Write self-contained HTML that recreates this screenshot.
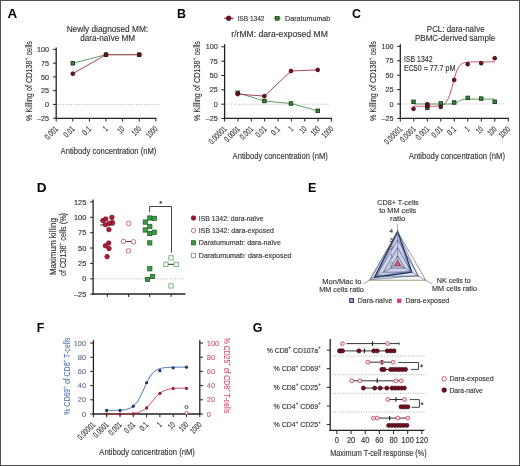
<!DOCTYPE html>
<html><head><meta charset="utf-8"><style>
html,body{margin:0;padding:0;background:#fff;}
svg{display:block;will-change:transform;}
text{font-family:"Liberation Sans",sans-serif;}
</style></head><body>
<svg width="520" height="466" viewBox="0 0 520 466">
<rect x="0" y="0" width="520" height="466" fill="#fff"/>
<text x="7.50" y="17.70" font-size="12.4" fill="#000" font-weight="bold" textLength="9.7" lengthAdjust="spacingAndGlyphs">A</text>
<text x="177.10" y="18.30" font-size="12.4" fill="#000" font-weight="bold">B</text>
<text x="352.00" y="17.80" font-size="12.4" fill="#000" font-weight="bold">C</text>
<text x="36.70" y="191.70" font-size="12.4" fill="#000" font-weight="bold" textLength="9.8" lengthAdjust="spacingAndGlyphs">D</text>
<text x="308.10" y="191.90" font-size="12.4" fill="#000" font-weight="bold">E</text>
<text x="36.70" y="331.80" font-size="12.4" fill="#000" font-weight="bold">F</text>
<text x="252.70" y="332.00" font-size="12.4" fill="#000" font-weight="bold">G</text>
<line x1="56.20" y1="47.50" x2="56.20" y2="118.90" stroke="#222" stroke-width="1.3"/>
<line x1="55.60" y1="118.30" x2="156.40" y2="118.30" stroke="#222" stroke-width="1.3"/>
<line x1="53.00" y1="49.40" x2="56.20" y2="49.40" stroke="#222" stroke-width="1"/>
<text x="48.90" y="52.00" font-size="7.2" text-anchor="end" fill="#333" stroke="#333" stroke-width="0.14">100</text>
<line x1="53.00" y1="63.15" x2="56.20" y2="63.15" stroke="#222" stroke-width="1"/>
<text x="48.90" y="65.75" font-size="7.2" text-anchor="end" fill="#333" stroke="#333" stroke-width="0.14">75</text>
<line x1="53.00" y1="76.90" x2="56.20" y2="76.90" stroke="#222" stroke-width="1"/>
<text x="48.90" y="79.50" font-size="7.2" text-anchor="end" fill="#333" stroke="#333" stroke-width="0.14">50</text>
<line x1="53.00" y1="90.65" x2="56.20" y2="90.65" stroke="#222" stroke-width="1"/>
<text x="48.90" y="93.25" font-size="7.2" text-anchor="end" fill="#333" stroke="#333" stroke-width="0.14">25</text>
<line x1="53.00" y1="104.40" x2="56.20" y2="104.40" stroke="#222" stroke-width="1"/>
<text x="48.90" y="107.00" font-size="7.2" text-anchor="end" fill="#333" stroke="#333" stroke-width="0.14">0</text>
<line x1="53.00" y1="118.15" x2="56.20" y2="118.15" stroke="#222" stroke-width="1"/>
<text x="48.90" y="120.75" font-size="7.2" text-anchor="end" fill="#333" stroke="#333" stroke-width="0.14">–25</text>
<line x1="56.20" y1="118.30" x2="56.20" y2="121.50" stroke="#222" stroke-width="1"/>
<text x="58.70" y="129.60" font-size="8.4" text-anchor="end" fill="#333" stroke="#333" stroke-width="0.14" textLength="15.2" lengthAdjust="spacingAndGlyphs" transform="rotate(-45 58.70 129.60)">0.001</text>
<line x1="72.80" y1="118.30" x2="72.80" y2="121.50" stroke="#222" stroke-width="1"/>
<text x="75.30" y="129.60" font-size="8.4" text-anchor="end" fill="#333" stroke="#333" stroke-width="0.14" textLength="12.0" lengthAdjust="spacingAndGlyphs" transform="rotate(-45 75.30 129.60)">0.01</text>
<line x1="89.40" y1="118.30" x2="89.40" y2="121.50" stroke="#222" stroke-width="1"/>
<text x="91.90" y="129.60" font-size="8.4" text-anchor="end" fill="#333" stroke="#333" stroke-width="0.14" textLength="8.9" lengthAdjust="spacingAndGlyphs" transform="rotate(-45 91.90 129.60)">0.1</text>
<line x1="106.00" y1="118.30" x2="106.00" y2="121.50" stroke="#222" stroke-width="1"/>
<text x="108.50" y="129.60" font-size="8.4" text-anchor="end" fill="#333" stroke="#333" stroke-width="0.14" textLength="3.1" lengthAdjust="spacingAndGlyphs" transform="rotate(-45 108.50 129.60)">1</text>
<line x1="122.60" y1="118.30" x2="122.60" y2="121.50" stroke="#222" stroke-width="1"/>
<text x="125.10" y="129.60" font-size="8.4" text-anchor="end" fill="#333" stroke="#333" stroke-width="0.14" textLength="6.3" lengthAdjust="spacingAndGlyphs" transform="rotate(-45 125.10 129.60)">10</text>
<line x1="139.20" y1="118.30" x2="139.20" y2="121.50" stroke="#222" stroke-width="1"/>
<text x="141.70" y="129.60" font-size="8.4" text-anchor="end" fill="#333" stroke="#333" stroke-width="0.14" textLength="9.4" lengthAdjust="spacingAndGlyphs" transform="rotate(-45 141.70 129.60)">100</text>
<line x1="155.80" y1="118.30" x2="155.80" y2="121.50" stroke="#222" stroke-width="1"/>
<text x="158.30" y="129.60" font-size="8.4" text-anchor="end" fill="#333" stroke="#333" stroke-width="0.14" textLength="12.6" lengthAdjust="spacingAndGlyphs" transform="rotate(-45 158.30 129.60)">1000</text>
<line x1="58.00" y1="104.40" x2="159.60" y2="104.40" stroke="#999" stroke-width="0.8" stroke-dasharray="1 1.6"/>
<text x="107.40" y="31.60" font-size="9.0" text-anchor="middle" fill="#333" stroke="#333" stroke-width="0.14" textLength="81.5" lengthAdjust="spacingAndGlyphs">Newly diagnosed MM:</text>
<text x="107.70" y="41.30" font-size="9.0" text-anchor="middle" fill="#333" stroke="#333" stroke-width="0.14" textLength="55" lengthAdjust="spacingAndGlyphs">dara-naïve MM</text>
<text x="31.50" y="81.00" font-size="9.1" text-anchor="middle" fill="#333" stroke="#333" stroke-width="0.14" textLength="80" lengthAdjust="spacingAndGlyphs" transform="rotate(-90 31.50 81.00)">% Killing of CD138<tspan font-size="65%" dy="-3.5">+</tspan><tspan dy="3.5"> cells</tspan></text>
<text x="60.60" y="153.60" font-size="9.8" fill="#333" stroke="#333" stroke-width="0.14" textLength="95.8" lengthAdjust="spacingAndGlyphs">Antibody concentration (nM)</text>
<polyline points="72.80,63.30 106.00,54.70 139.20,54.70" fill="none" stroke="#5e9e62" stroke-width="1.0"/>
<rect x="71.05" y="61.55" width="3.5" height="3.5" fill="#38843d" stroke="#163f1a" stroke-width="0.9"/>
<rect x="104.25" y="52.95" width="3.5" height="3.5" fill="#38843d" stroke="#163f1a" stroke-width="0.9"/>
<rect x="137.45" y="52.95" width="3.5" height="3.5" fill="#38843d" stroke="#163f1a" stroke-width="0.9"/>
<polyline points="72.80,73.70 106.00,54.70 139.20,54.70" fill="none" stroke="#a8465a" stroke-width="1.0"/>
<circle cx="72.80" cy="73.70" r="1.9" fill="#6e1222" stroke="#3e050e" stroke-width="0.8"/>
<circle cx="106.00" cy="54.70" r="1.9" fill="#6e1222" stroke="#3e050e" stroke-width="0.8"/>
<circle cx="139.20" cy="54.70" r="1.9" fill="#6e1222" stroke="#3e050e" stroke-width="0.8"/>
<line x1="224.60" y1="44.20" x2="224.60" y2="118.90" stroke="#222" stroke-width="1.3"/>
<line x1="224.00" y1="118.30" x2="332.00" y2="118.30" stroke="#222" stroke-width="1.3"/>
<line x1="221.40" y1="46.80" x2="224.60" y2="46.80" stroke="#222" stroke-width="1"/>
<text x="217.70" y="49.40" font-size="7.2" text-anchor="end" fill="#333" stroke="#333" stroke-width="0.14">100</text>
<line x1="221.40" y1="61.15" x2="224.60" y2="61.15" stroke="#222" stroke-width="1"/>
<text x="217.70" y="63.75" font-size="7.2" text-anchor="end" fill="#333" stroke="#333" stroke-width="0.14">75</text>
<line x1="221.40" y1="75.50" x2="224.60" y2="75.50" stroke="#222" stroke-width="1"/>
<text x="217.70" y="78.10" font-size="7.2" text-anchor="end" fill="#333" stroke="#333" stroke-width="0.14">50</text>
<line x1="221.40" y1="89.85" x2="224.60" y2="89.85" stroke="#222" stroke-width="1"/>
<text x="217.70" y="92.45" font-size="7.2" text-anchor="end" fill="#333" stroke="#333" stroke-width="0.14">25</text>
<line x1="221.40" y1="104.20" x2="224.60" y2="104.20" stroke="#222" stroke-width="1"/>
<text x="217.70" y="106.80" font-size="7.2" text-anchor="end" fill="#333" stroke="#333" stroke-width="0.14">0</text>
<line x1="221.40" y1="118.55" x2="224.60" y2="118.55" stroke="#222" stroke-width="1"/>
<text x="217.70" y="121.15" font-size="7.2" text-anchor="end" fill="#333" stroke="#333" stroke-width="0.14">–25</text>
<line x1="224.60" y1="118.30" x2="224.60" y2="121.50" stroke="#222" stroke-width="1"/>
<text x="227.10" y="129.60" font-size="8.4" text-anchor="end" fill="#333" stroke="#333" stroke-width="0.14" textLength="21.5" lengthAdjust="spacingAndGlyphs" transform="rotate(-45 227.10 129.60)">0.00001</text>
<line x1="237.95" y1="118.30" x2="237.95" y2="121.50" stroke="#222" stroke-width="1"/>
<text x="240.45" y="129.60" font-size="8.4" text-anchor="end" fill="#333" stroke="#333" stroke-width="0.14" textLength="18.4" lengthAdjust="spacingAndGlyphs" transform="rotate(-45 240.45 129.60)">0.0001</text>
<line x1="251.30" y1="118.30" x2="251.30" y2="121.50" stroke="#222" stroke-width="1"/>
<text x="253.80" y="129.60" font-size="8.4" text-anchor="end" fill="#333" stroke="#333" stroke-width="0.14" textLength="15.2" lengthAdjust="spacingAndGlyphs" transform="rotate(-45 253.80 129.60)">0.001</text>
<line x1="264.65" y1="118.30" x2="264.65" y2="121.50" stroke="#222" stroke-width="1"/>
<text x="267.15" y="129.60" font-size="8.4" text-anchor="end" fill="#333" stroke="#333" stroke-width="0.14" textLength="12.0" lengthAdjust="spacingAndGlyphs" transform="rotate(-45 267.15 129.60)">0.01</text>
<line x1="278.00" y1="118.30" x2="278.00" y2="121.50" stroke="#222" stroke-width="1"/>
<text x="280.50" y="129.60" font-size="8.4" text-anchor="end" fill="#333" stroke="#333" stroke-width="0.14" textLength="8.9" lengthAdjust="spacingAndGlyphs" transform="rotate(-45 280.50 129.60)">0.1</text>
<line x1="291.35" y1="118.30" x2="291.35" y2="121.50" stroke="#222" stroke-width="1"/>
<text x="293.85" y="129.60" font-size="8.4" text-anchor="end" fill="#333" stroke="#333" stroke-width="0.14" textLength="3.1" lengthAdjust="spacingAndGlyphs" transform="rotate(-45 293.85 129.60)">1</text>
<line x1="304.70" y1="118.30" x2="304.70" y2="121.50" stroke="#222" stroke-width="1"/>
<text x="307.20" y="129.60" font-size="8.4" text-anchor="end" fill="#333" stroke="#333" stroke-width="0.14" textLength="6.3" lengthAdjust="spacingAndGlyphs" transform="rotate(-45 307.20 129.60)">10</text>
<line x1="318.05" y1="118.30" x2="318.05" y2="121.50" stroke="#222" stroke-width="1"/>
<text x="320.55" y="129.60" font-size="8.4" text-anchor="end" fill="#333" stroke="#333" stroke-width="0.14" textLength="9.4" lengthAdjust="spacingAndGlyphs" transform="rotate(-45 320.55 129.60)">100</text>
<line x1="331.40" y1="118.30" x2="331.40" y2="121.50" stroke="#222" stroke-width="1"/>
<text x="333.90" y="129.60" font-size="8.4" text-anchor="end" fill="#333" stroke="#333" stroke-width="0.14" textLength="12.6" lengthAdjust="spacingAndGlyphs" transform="rotate(-45 333.90 129.60)">1000</text>
<line x1="226.00" y1="104.20" x2="329.00" y2="104.20" stroke="#999" stroke-width="0.8" stroke-dasharray="1 1.6"/>
<text x="279.60" y="36.60" font-size="8.8" text-anchor="middle" fill="#333" stroke="#333" stroke-width="0.14" textLength="96.5" lengthAdjust="spacingAndGlyphs">r/rMM: dara-exposed MM</text>
<text x="199.50" y="81.00" font-size="9.1" text-anchor="middle" fill="#333" stroke="#333" stroke-width="0.14" textLength="80" lengthAdjust="spacingAndGlyphs" transform="rotate(-90 199.50 81.00)">% Killing of CD138<tspan font-size="65%" dy="-3.5">+</tspan><tspan dy="3.5"> cells</tspan></text>
<text x="232.60" y="159.20" font-size="9.8" fill="#333" stroke="#333" stroke-width="0.14" textLength="95.2" lengthAdjust="spacingAndGlyphs">Antibody concentration (nM)</text>
<polyline points="237.70,92.80 264.40,101.00 291.00,103.50 317.70,110.80" fill="none" stroke="#5e9e62" stroke-width="1.0"/>
<rect x="235.95" y="91.05" width="3.5" height="3.5" fill="#38843d" stroke="#163f1a" stroke-width="0.9"/>
<rect x="262.65" y="99.25" width="3.5" height="3.5" fill="#38843d" stroke="#163f1a" stroke-width="0.9"/>
<rect x="289.25" y="101.75" width="3.5" height="3.5" fill="#38843d" stroke="#163f1a" stroke-width="0.9"/>
<rect x="315.95" y="109.05" width="3.5" height="3.5" fill="#38843d" stroke="#163f1a" stroke-width="0.9"/>
<polyline points="237.70,94.10 264.40,96.10 291.00,71.00 317.70,69.90" fill="none" stroke="#a8465a" stroke-width="1.0"/>
<circle cx="237.70" cy="94.10" r="1.9" fill="#6e1222" stroke="#3e050e" stroke-width="0.8"/>
<circle cx="264.40" cy="96.10" r="1.9" fill="#6e1222" stroke="#3e050e" stroke-width="0.8"/>
<circle cx="291.00" cy="71.00" r="1.9" fill="#6e1222" stroke="#3e050e" stroke-width="0.8"/>
<circle cx="317.70" cy="69.90" r="1.9" fill="#6e1222" stroke="#3e050e" stroke-width="0.8"/>
<line x1="224.00" y1="18.30" x2="233.60" y2="18.30" stroke="#a8465a" stroke-width="1.2"/>
<circle cx="228.70" cy="18.30" r="2.3" fill="#6e1222" stroke="#3e050e" stroke-width="0.8"/>
<text x="237.50" y="20.70" font-size="7.6" fill="#333" stroke="#333" stroke-width="0.14" textLength="27" lengthAdjust="spacingAndGlyphs">ISB 1342</text>
<line x1="273.80" y1="18.30" x2="280.60" y2="18.30" stroke="#5e9e62" stroke-width="1.2"/>
<rect x="275.30" y="16.40" width="3.8" height="3.8" fill="#38843d" stroke="#163f1a" stroke-width="0.8"/>
<text x="285.00" y="20.70" font-size="7.6" fill="#333" stroke="#333" stroke-width="0.14" textLength="45.3" lengthAdjust="spacingAndGlyphs">Daratumumab</text>
<line x1="400.30" y1="44.20" x2="400.30" y2="119.00" stroke="#222" stroke-width="1.3"/>
<line x1="399.70" y1="118.40" x2="508.90" y2="118.40" stroke="#222" stroke-width="1.3"/>
<line x1="397.10" y1="46.40" x2="400.30" y2="46.40" stroke="#222" stroke-width="1"/>
<text x="393.50" y="49.00" font-size="7.2" text-anchor="end" fill="#333" stroke="#333" stroke-width="0.14">100</text>
<line x1="397.10" y1="60.80" x2="400.30" y2="60.80" stroke="#222" stroke-width="1"/>
<text x="393.50" y="63.40" font-size="7.2" text-anchor="end" fill="#333" stroke="#333" stroke-width="0.14">75</text>
<line x1="397.10" y1="75.20" x2="400.30" y2="75.20" stroke="#222" stroke-width="1"/>
<text x="393.50" y="77.80" font-size="7.2" text-anchor="end" fill="#333" stroke="#333" stroke-width="0.14">50</text>
<line x1="397.10" y1="89.60" x2="400.30" y2="89.60" stroke="#222" stroke-width="1"/>
<text x="393.50" y="92.20" font-size="7.2" text-anchor="end" fill="#333" stroke="#333" stroke-width="0.14">25</text>
<line x1="397.10" y1="104.00" x2="400.30" y2="104.00" stroke="#222" stroke-width="1"/>
<text x="393.50" y="106.60" font-size="7.2" text-anchor="end" fill="#333" stroke="#333" stroke-width="0.14">0</text>
<line x1="397.10" y1="118.40" x2="400.30" y2="118.40" stroke="#222" stroke-width="1"/>
<text x="393.50" y="121.00" font-size="7.2" text-anchor="end" fill="#333" stroke="#333" stroke-width="0.14">–25</text>
<line x1="400.30" y1="118.40" x2="400.30" y2="121.60" stroke="#222" stroke-width="1"/>
<text x="402.80" y="129.70" font-size="8.4" text-anchor="end" fill="#333" stroke="#333" stroke-width="0.14" textLength="21.5" lengthAdjust="spacingAndGlyphs" transform="rotate(-45 402.80 129.70)">0.00001</text>
<line x1="413.80" y1="118.40" x2="413.80" y2="121.60" stroke="#222" stroke-width="1"/>
<text x="416.30" y="129.70" font-size="8.4" text-anchor="end" fill="#333" stroke="#333" stroke-width="0.14" textLength="18.4" lengthAdjust="spacingAndGlyphs" transform="rotate(-45 416.30 129.70)">0.0001</text>
<line x1="427.30" y1="118.40" x2="427.30" y2="121.60" stroke="#222" stroke-width="1"/>
<text x="429.80" y="129.70" font-size="8.4" text-anchor="end" fill="#333" stroke="#333" stroke-width="0.14" textLength="15.2" lengthAdjust="spacingAndGlyphs" transform="rotate(-45 429.80 129.70)">0.001</text>
<line x1="440.80" y1="118.40" x2="440.80" y2="121.60" stroke="#222" stroke-width="1"/>
<text x="443.30" y="129.70" font-size="8.4" text-anchor="end" fill="#333" stroke="#333" stroke-width="0.14" textLength="12.0" lengthAdjust="spacingAndGlyphs" transform="rotate(-45 443.30 129.70)">0.01</text>
<line x1="454.30" y1="118.40" x2="454.30" y2="121.60" stroke="#222" stroke-width="1"/>
<text x="456.80" y="129.70" font-size="8.4" text-anchor="end" fill="#333" stroke="#333" stroke-width="0.14" textLength="8.9" lengthAdjust="spacingAndGlyphs" transform="rotate(-45 456.80 129.70)">0.1</text>
<line x1="467.80" y1="118.40" x2="467.80" y2="121.60" stroke="#222" stroke-width="1"/>
<text x="470.30" y="129.70" font-size="8.4" text-anchor="end" fill="#333" stroke="#333" stroke-width="0.14" textLength="3.1" lengthAdjust="spacingAndGlyphs" transform="rotate(-45 470.30 129.70)">1</text>
<line x1="481.30" y1="118.40" x2="481.30" y2="121.60" stroke="#222" stroke-width="1"/>
<text x="483.80" y="129.70" font-size="8.4" text-anchor="end" fill="#333" stroke="#333" stroke-width="0.14" textLength="6.3" lengthAdjust="spacingAndGlyphs" transform="rotate(-45 483.80 129.70)">10</text>
<line x1="494.80" y1="118.40" x2="494.80" y2="121.60" stroke="#222" stroke-width="1"/>
<text x="497.30" y="129.70" font-size="8.4" text-anchor="end" fill="#333" stroke="#333" stroke-width="0.14" textLength="9.4" lengthAdjust="spacingAndGlyphs" transform="rotate(-45 497.30 129.70)">100</text>
<line x1="508.30" y1="118.40" x2="508.30" y2="121.60" stroke="#222" stroke-width="1"/>
<text x="510.80" y="129.70" font-size="8.4" text-anchor="end" fill="#333" stroke="#333" stroke-width="0.14" textLength="12.6" lengthAdjust="spacingAndGlyphs" transform="rotate(-45 510.80 129.70)">1000</text>
<line x1="401.50" y1="104.00" x2="504.00" y2="104.00" stroke="#c8a0a8" stroke-width="0.8" stroke-dasharray="1 1.6"/>
<text x="455.70" y="31.50" font-size="8.8" text-anchor="middle" fill="#333" stroke="#333" stroke-width="0.14" textLength="57.7" lengthAdjust="spacingAndGlyphs">PCL: dara-naïve</text>
<text x="455.10" y="41.20" font-size="8.8" text-anchor="middle" fill="#333" stroke="#333" stroke-width="0.14" textLength="80.2" lengthAdjust="spacingAndGlyphs">PBMC-derived sample</text>
<text x="375.50" y="81.00" font-size="9.1" text-anchor="middle" fill="#333" stroke="#333" stroke-width="0.14" textLength="80" lengthAdjust="spacingAndGlyphs" transform="rotate(-90 375.50 81.00)">% Killing of CD138<tspan font-size="65%" dy="-3.5">+</tspan><tspan dy="3.5"> cells</tspan></text>
<text x="404.00" y="62.30" font-size="8.4" fill="#333" stroke="#333" stroke-width="0.14" textLength="28.5" lengthAdjust="spacingAndGlyphs">ISB 1342</text>
<text x="404.00" y="70.90" font-size="8.4" fill="#333" stroke="#333" stroke-width="0.14" textLength="51.3" lengthAdjust="spacingAndGlyphs">EC50 = 77.7 pM</text>
<text x="408.80" y="159.20" font-size="9.8" fill="#333" stroke="#333" stroke-width="0.14" textLength="96.2" lengthAdjust="spacingAndGlyphs">Antibody concentration (nM)</text>
<polyline points="413.80,106.30 414.48,106.30 415.15,106.30 415.82,106.30 416.50,106.30 417.18,106.30 417.85,106.30 418.52,106.30 419.20,106.30 419.88,106.30 420.55,106.30 421.22,106.30 421.90,106.30 422.57,106.30 423.25,106.30 423.92,106.30 424.60,106.30 425.27,106.30 425.95,106.30 426.62,106.30 427.30,106.30 427.97,106.29 428.65,106.29 429.32,106.29 430.00,106.29 430.67,106.28 431.35,106.27 432.02,106.27 432.70,106.26 433.37,106.25 434.05,106.23 434.72,106.21 435.40,106.19 436.07,106.16 436.75,106.12 437.42,106.07 438.10,106.01 438.77,105.94 439.45,105.84 440.12,105.73 440.80,105.58 441.47,105.40 442.15,105.17 442.82,104.88 443.50,104.53 444.17,104.09 444.85,103.55 445.52,102.90 446.20,102.10 446.87,101.13 447.55,99.99 448.22,98.63 448.90,97.06 449.57,95.26 450.25,93.24 450.92,91.02 451.60,88.63 452.27,86.13 452.95,83.58 453.62,81.04 454.30,78.58 454.97,76.25 455.65,74.10 456.32,72.17 457.00,70.45 457.67,68.97 458.35,67.69 459.02,66.62 459.70,65.72 460.37,64.98 461.05,64.37 461.72,63.87 462.40,63.47 463.07,63.14 463.75,62.88 464.42,62.67 465.10,62.50 465.77,62.37 466.45,62.26 467.12,62.17 467.80,62.10 468.47,62.05 469.15,62.01 469.82,61.97 470.50,61.94 471.17,61.92 471.85,61.90 472.52,61.89 473.20,61.88 473.87,61.87 474.55,61.86 475.22,61.86 475.90,61.85 476.57,61.85 477.25,61.85 477.92,61.85 478.60,61.84 479.27,61.84 479.95,61.84 480.62,61.84 481.30,61.84 481.97,61.84 482.65,61.84 483.32,61.84 484.00,61.84 484.67,61.84 485.35,61.84 486.02,61.84 486.70,61.84 487.37,61.84 488.05,61.84 488.72,61.84 489.40,61.84 490.07,61.84 490.75,61.84 491.42,61.84 492.10,61.84 492.77,61.84 493.45,61.84 494.12,61.84 494.80,61.84" fill="none" stroke="#c4405a" stroke-width="0.95"/>
<polyline points="413.80,104.00 414.48,104.00 415.15,104.00 415.82,104.00 416.50,104.00 417.18,104.00 417.85,104.00 418.52,104.00 419.20,104.00 419.88,104.00 420.55,104.00 421.22,104.00 421.90,104.00 422.57,104.00 423.25,104.00 423.92,104.00 424.60,104.00 425.27,104.00 425.95,104.00 426.62,104.00 427.30,104.00 427.97,104.00 428.65,104.00 429.32,104.00 430.00,104.00 430.67,104.00 431.35,104.00 432.02,104.00 432.70,104.00 433.37,104.00 434.05,104.00 434.72,104.00 435.40,104.00 436.07,104.00 436.75,104.00 437.42,104.00 438.10,104.00 438.77,104.00 439.45,104.00 440.12,104.00 440.80,104.00 441.47,104.00 442.15,104.00 442.82,104.00 443.50,104.00 444.17,104.00 444.85,104.00 445.52,103.99 446.20,103.99 446.87,103.99 447.55,103.98 448.22,103.97 448.90,103.96 449.57,103.95 450.25,103.92 450.92,103.89 451.60,103.85 452.27,103.79 452.95,103.71 453.62,103.60 454.30,103.45 454.97,103.26 455.65,103.02 456.32,102.72 457.00,102.37 457.67,101.97 458.35,101.55 459.02,101.13 459.70,100.74 460.37,100.39 461.05,100.09 461.72,99.84 462.40,99.65 463.07,99.50 463.75,99.39 464.42,99.31 465.10,99.25 465.77,99.21 466.45,99.18 467.12,99.16 467.80,99.14 468.47,99.13 469.15,99.12 469.82,99.12 470.50,99.11 471.17,99.11 471.85,99.11 472.52,99.11 473.20,99.11 473.87,99.11 474.55,99.11 475.22,99.10 475.90,99.10 476.57,99.10 477.25,99.10 477.92,99.10 478.60,99.10 479.27,99.10 479.95,99.10 480.62,99.10 481.30,99.10 481.97,99.10 482.65,99.10 483.32,99.10 484.00,99.10 484.67,99.10 485.35,99.10 486.02,99.10 486.70,99.10 487.37,99.10 488.05,99.10 488.72,99.10 489.40,99.10 490.07,99.10 490.75,99.10 491.42,99.10 492.10,99.10 492.77,99.10 493.45,99.10 494.12,99.10 494.80,99.10" fill="none" stroke="#3e8a42" stroke-width="0.95"/>
<rect x="411.75" y="100.05" width="3.5" height="3.5" fill="#38843d" stroke="#163f1a" stroke-width="0.9"/>
<rect x="425.55" y="106.15" width="3.5" height="3.5" fill="#38843d" stroke="#163f1a" stroke-width="0.9"/>
<rect x="425.55" y="103.85" width="3.5" height="3.5" fill="#38843d" stroke="#163f1a" stroke-width="0.9"/>
<rect x="439.05" y="101.65" width="3.5" height="3.5" fill="#38843d" stroke="#163f1a" stroke-width="0.9"/>
<rect x="452.45" y="100.75" width="3.5" height="3.5" fill="#38843d" stroke="#163f1a" stroke-width="0.9"/>
<rect x="465.95" y="96.15" width="3.5" height="3.5" fill="#38843d" stroke="#163f1a" stroke-width="0.9"/>
<rect x="479.45" y="96.85" width="3.5" height="3.5" fill="#38843d" stroke="#163f1a" stroke-width="0.9"/>
<rect x="492.95" y="100.05" width="3.5" height="3.5" fill="#38843d" stroke="#163f1a" stroke-width="0.9"/>
<circle cx="413.50" cy="108.80" r="1.9" fill="#6e1222" stroke="#3e050e" stroke-width="0.8"/>
<circle cx="427.30" cy="104.20" r="1.9" fill="#6e1222" stroke="#3e050e" stroke-width="0.8"/>
<circle cx="427.30" cy="106.20" r="1.9" fill="#6e1222" stroke="#3e050e" stroke-width="0.8"/>
<circle cx="440.80" cy="106.90" r="1.9" fill="#6e1222" stroke="#3e050e" stroke-width="0.8"/>
<circle cx="454.20" cy="79.90" r="1.9" fill="#6e1222" stroke="#3e050e" stroke-width="0.8"/>
<circle cx="467.70" cy="64.20" r="1.9" fill="#6e1222" stroke="#3e050e" stroke-width="0.8"/>
<circle cx="481.20" cy="63.20" r="1.9" fill="#6e1222" stroke="#3e050e" stroke-width="0.8"/>
<circle cx="494.70" cy="58.20" r="1.9" fill="#6e1222" stroke="#3e050e" stroke-width="0.8"/>
<line x1="93.10" y1="199.50" x2="93.10" y2="294.60" stroke="#222" stroke-width="1.3"/>
<line x1="92.50" y1="294.00" x2="185.50" y2="294.00" stroke="#222" stroke-width="1.3"/>
<line x1="90.10" y1="201.93" x2="93.10" y2="201.93" stroke="#222" stroke-width="1"/>
<text x="86.30" y="204.53" font-size="7.4" text-anchor="end" fill="#333" stroke="#333" stroke-width="0.14">125</text>
<line x1="90.10" y1="217.30" x2="93.10" y2="217.30" stroke="#222" stroke-width="1"/>
<text x="86.30" y="219.90" font-size="7.4" text-anchor="end" fill="#333" stroke="#333" stroke-width="0.14">100</text>
<line x1="90.10" y1="232.68" x2="93.10" y2="232.68" stroke="#222" stroke-width="1"/>
<text x="86.30" y="235.28" font-size="7.4" text-anchor="end" fill="#333" stroke="#333" stroke-width="0.14">75</text>
<line x1="90.10" y1="248.05" x2="93.10" y2="248.05" stroke="#222" stroke-width="1"/>
<text x="86.30" y="250.65" font-size="7.4" text-anchor="end" fill="#333" stroke="#333" stroke-width="0.14">50</text>
<line x1="90.10" y1="263.43" x2="93.10" y2="263.43" stroke="#222" stroke-width="1"/>
<text x="86.30" y="266.03" font-size="7.4" text-anchor="end" fill="#333" stroke="#333" stroke-width="0.14">25</text>
<line x1="90.10" y1="278.80" x2="93.10" y2="278.80" stroke="#222" stroke-width="1"/>
<text x="86.30" y="281.40" font-size="7.4" text-anchor="end" fill="#333" stroke="#333" stroke-width="0.14">0</text>
<line x1="90.10" y1="294.18" x2="93.10" y2="294.18" stroke="#222" stroke-width="1"/>
<text x="86.30" y="296.78" font-size="7.4" text-anchor="end" fill="#333" stroke="#333" stroke-width="0.14">–25</text>
<line x1="107.30" y1="294.00" x2="107.30" y2="297.00" stroke="#222" stroke-width="1"/>
<line x1="128.60" y1="294.00" x2="128.60" y2="297.00" stroke="#222" stroke-width="1"/>
<line x1="149.80" y1="294.00" x2="149.80" y2="297.00" stroke="#222" stroke-width="1"/>
<line x1="171.10" y1="294.00" x2="171.10" y2="297.00" stroke="#222" stroke-width="1"/>
<line x1="94.50" y1="278.80" x2="185.80" y2="278.80" stroke="#999" stroke-width="0.8" stroke-dasharray="1 1.6"/>
<text x="56.00" y="246.60" font-size="8.2" text-anchor="middle" fill="#333" stroke="#333" stroke-width="0.14" textLength="57" lengthAdjust="spacingAndGlyphs" transform="rotate(-90 56.00 246.60)">Maximum killing</text>
<text x="65.60" y="244.50" font-size="8.2" text-anchor="middle" fill="#333" stroke="#333" stroke-width="0.14" textLength="63" lengthAdjust="spacingAndGlyphs" transform="rotate(-90 65.60 244.50)">of CD138<tspan font-size="65%" dy="-3.5">+</tspan><tspan dy="3.5"> cells (%)</tspan></text>
<line x1="100.30" y1="225.00" x2="114.50" y2="225.00" stroke="#222" stroke-width="1"/>
<circle cx="102.90" cy="220.60" r="2.3" fill="#b01835" stroke="#6a0a1c" stroke-width="0.6"/>
<circle cx="105.70" cy="219.00" r="2.3" fill="#b01835" stroke="#6a0a1c" stroke-width="0.6"/>
<circle cx="111.90" cy="217.40" r="2.3" fill="#b01835" stroke="#6a0a1c" stroke-width="0.6"/>
<circle cx="112.50" cy="222.50" r="2.3" fill="#b01835" stroke="#6a0a1c" stroke-width="0.6"/>
<circle cx="109.30" cy="223.20" r="2.3" fill="#b01835" stroke="#6a0a1c" stroke-width="0.6"/>
<circle cx="105.40" cy="224.70" r="2.3" fill="#b01835" stroke="#6a0a1c" stroke-width="0.6"/>
<circle cx="108.90" cy="229.60" r="2.3" fill="#b01835" stroke="#6a0a1c" stroke-width="0.6"/>
<circle cx="108.70" cy="243.10" r="2.3" fill="#b01835" stroke="#6a0a1c" stroke-width="0.6"/>
<circle cx="105.40" cy="245.70" r="2.3" fill="#b01835" stroke="#6a0a1c" stroke-width="0.6"/>
<circle cx="109.00" cy="248.60" r="2.3" fill="#b01835" stroke="#6a0a1c" stroke-width="0.6"/>
<circle cx="107.10" cy="256.60" r="2.3" fill="#b01835" stroke="#6a0a1c" stroke-width="0.6"/>
<line x1="123.50" y1="241.50" x2="133.50" y2="241.50" stroke="#7a2030" stroke-width="1"/>
<circle cx="128.60" cy="223.40" r="2.3" fill="#fff" stroke="#c04a5c" stroke-width="0.8"/>
<circle cx="123.50" cy="241.40" r="2.3" fill="#fff" stroke="#c04a5c" stroke-width="0.8"/>
<circle cx="133.50" cy="241.80" r="2.3" fill="#fff" stroke="#c04a5c" stroke-width="0.8"/>
<circle cx="128.60" cy="250.80" r="2.3" fill="#fff" stroke="#c04a5c" stroke-width="0.8"/>
<rect x="147.65" y="215.85" width="4.3" height="4.3" fill="#3a9a40" stroke="#1e5a24" stroke-width="0.7"/>
<rect x="152.15" y="216.25" width="4.3" height="4.3" fill="#3a9a40" stroke="#1e5a24" stroke-width="0.7"/>
<rect x="143.15" y="219.95" width="4.3" height="4.3" fill="#3a9a40" stroke="#1e5a24" stroke-width="0.7"/>
<rect x="147.65" y="224.25" width="4.3" height="4.3" fill="#3a9a40" stroke="#1e5a24" stroke-width="0.7"/>
<rect x="143.15" y="227.85" width="4.3" height="4.3" fill="#3a9a40" stroke="#1e5a24" stroke-width="0.7"/>
<rect x="147.65" y="231.35" width="4.3" height="4.3" fill="#3a9a40" stroke="#1e5a24" stroke-width="0.7"/>
<rect x="152.15" y="230.05" width="4.3" height="4.3" fill="#3a9a40" stroke="#1e5a24" stroke-width="0.7"/>
<rect x="147.65" y="240.75" width="4.3" height="4.3" fill="#3a9a40" stroke="#1e5a24" stroke-width="0.7"/>
<rect x="147.65" y="266.65" width="4.3" height="4.3" fill="#3a9a40" stroke="#1e5a24" stroke-width="0.7"/>
<rect x="150.45" y="274.35" width="4.3" height="4.3" fill="#3a9a40" stroke="#1e5a24" stroke-width="0.7"/>
<rect x="145.35" y="277.35" width="4.3" height="4.3" fill="#3a9a40" stroke="#1e5a24" stroke-width="0.7"/>
<line x1="166.00" y1="264.30" x2="176.00" y2="264.30" stroke="#333" stroke-width="1"/>
<rect x="168.85" y="255.75" width="4.3" height="4.3" fill="#fff" stroke="#5aa85c" stroke-width="0.8"/>
<rect x="163.75" y="262.15" width="4.3" height="4.3" fill="#fff" stroke="#5aa85c" stroke-width="0.8"/>
<rect x="174.05" y="262.15" width="4.3" height="4.3" fill="#fff" stroke="#5aa85c" stroke-width="0.8"/>
<rect x="168.85" y="283.75" width="4.3" height="4.3" fill="#fff" stroke="#5aa85c" stroke-width="0.8"/>
<polyline points="149.60,212.20 149.60,206.50 171.50,206.50 171.50,252.50" fill="none" stroke="#444" stroke-width="1"/>
<line x1="160.70" y1="200.90" x2="160.70" y2="203.90" stroke="#333" stroke-width="0.75"/>
<line x1="159.40" y1="201.65" x2="162.00" y2="203.15" stroke="#333" stroke-width="0.75"/>
<line x1="162.00" y1="201.65" x2="159.40" y2="203.15" stroke="#333" stroke-width="0.75"/>
<circle cx="193.50" cy="218.00" r="2.3" fill="#a01830" stroke="#5a0c18" stroke-width="0.6"/>
<text x="198.80" y="220.60" font-size="8" fill="#333" stroke="#333" stroke-width="0.14" textLength="64.7" lengthAdjust="spacingAndGlyphs">ISB 1342: dara-naïve</text>
<circle cx="193.50" cy="230.50" r="2.2" fill="#fff" stroke="#c04a5c" stroke-width="0.8"/>
<text x="198.80" y="233.10" font-size="8" fill="#333" stroke="#333" stroke-width="0.14" textLength="75.1" lengthAdjust="spacingAndGlyphs">ISB 1342: dara-exposed</text>
<rect x="191.40" y="240.70" width="4.2" height="4.2" fill="#3a9a40" stroke="#1e5a24" stroke-width="0.7"/>
<text x="198.80" y="245.40" font-size="8" fill="#333" stroke="#333" stroke-width="0.14" textLength="82" lengthAdjust="spacingAndGlyphs">Daratumumab: dara-naïve</text>
<rect x="191.40" y="253.30" width="4.2" height="4.2" fill="#fff" stroke="#5aa85c" stroke-width="0.8"/>
<text x="198.80" y="258.00" font-size="8" fill="#333" stroke="#333" stroke-width="0.14" textLength="92.8" lengthAdjust="spacingAndGlyphs">Daratumumab: dara-exposed</text>
<polygon points="397.60,231.40 417.79,275.65 370.43,279.69" fill="#e2e5f3" stroke="#5a6a9a" stroke-width="0.7"/>
<polygon points="397.60,231.40 411.72,272.15 374.59,277.28" fill="#cdd2ea" stroke="#1d3768" stroke-width="1.4"/>
<polygon points="397.60,233.44 409.95,271.13 376.43,276.23" fill="none" stroke="#5a70a8" stroke-width="0.6"/>
<line x1="397.60" y1="264.00" x2="397.60" y2="224.06" stroke="#666" stroke-width="0.6"/>
<line x1="397.60" y1="264.00" x2="431.83" y2="283.76" stroke="#666" stroke-width="0.6"/>
<line x1="397.60" y1="264.00" x2="363.37" y2="283.76" stroke="#666" stroke-width="0.6"/>
<polygon points="397.60,255.85 404.66,268.07 390.54,268.07" fill="none" stroke="#3a4470" stroke-width="0.6"/>
<polygon points="397.60,247.70 411.72,272.15 383.48,272.15" fill="none" stroke="#3a4470" stroke-width="0.6"/>
<polygon points="397.60,239.55 418.77,276.23 376.43,276.23" fill="none" stroke="#3a4470" stroke-width="0.6"/>
<polygon points="397.60,231.40 425.83,280.30 369.37,280.30" fill="none" stroke="#6e6a60" stroke-width="0.7"/>
<line x1="370.17" y1="280.30" x2="425.03" y2="280.30" stroke="#cdbf9f" stroke-width="0.9"/>
<polygon points="397.60,260.41 400.71,265.79 394.49,265.79" fill="#cc6a8e" stroke="#8a1a3e" stroke-width="0.9"/>
<text x="393.00" y="233.40" font-size="6.2" text-anchor="end" fill="#333" stroke="#333" stroke-width="0.14">4</text>
<text x="393.00" y="241.55" font-size="6.2" text-anchor="end" fill="#333" stroke="#333" stroke-width="0.14">3</text>
<text x="393.00" y="249.70" font-size="4.8" text-anchor="end" fill="#777" stroke="#777" stroke-width="0.14">2</text>
<text x="393.00" y="257.85" font-size="4.8" text-anchor="end" fill="#777" stroke="#777" stroke-width="0.14">1</text>
<text x="393.00" y="266.00" font-size="4.8" text-anchor="end" fill="#777" stroke="#777" stroke-width="0.14">0</text>
<text x="398.00" y="204.60" font-size="7.9" text-anchor="middle" fill="#333" stroke="#333" stroke-width="0.14" textLength="41.5" lengthAdjust="spacingAndGlyphs">CD8+ T-cells</text>
<text x="397.70" y="212.60" font-size="7.9" text-anchor="middle" fill="#333" stroke="#333" stroke-width="0.14" textLength="37" lengthAdjust="spacingAndGlyphs">to MM cells</text>
<text x="397.70" y="221.20" font-size="7.9" text-anchor="middle" fill="#333" stroke="#333" stroke-width="0.14" textLength="15.2" lengthAdjust="spacingAndGlyphs">ratio</text>
<text x="341.90" y="283.50" font-size="7.9" text-anchor="middle" fill="#333" stroke="#333" stroke-width="0.14" textLength="39.2" lengthAdjust="spacingAndGlyphs">Mon/Mac to</text>
<text x="341.60" y="291.50" font-size="7.9" text-anchor="middle" fill="#333" stroke="#333" stroke-width="0.14" textLength="44.5" lengthAdjust="spacingAndGlyphs">MM cells ratio</text>
<text x="453.80" y="283.00" font-size="7.9" text-anchor="middle" fill="#333" stroke="#333" stroke-width="0.14" textLength="34" lengthAdjust="spacingAndGlyphs">NK cells to</text>
<text x="454.50" y="291.30" font-size="7.9" text-anchor="middle" fill="#333" stroke="#333" stroke-width="0.14" textLength="45" lengthAdjust="spacingAndGlyphs">MM cells ratio</text>
<rect x="349.80" y="298.70" width="3.6" height="3.6" fill="#c9d0ea" stroke="#1f3a6e" stroke-width="1.2"/>
<text x="357.70" y="302.90" font-size="7.6" fill="#333" stroke="#333" stroke-width="0.14" textLength="34.6" lengthAdjust="spacingAndGlyphs">Dara-naïve</text>
<rect x="397.10" y="298.70" width="4.2" height="4.2" fill="#d23a7a"/>
<text x="405.40" y="302.90" font-size="7.6" fill="#333" stroke="#333" stroke-width="0.14" textLength="43.8" lengthAdjust="spacingAndGlyphs">Dara-exposed</text>
<line x1="93.40" y1="340.20" x2="93.40" y2="414.60" stroke="#222" stroke-width="1.3"/>
<line x1="199.80" y1="340.20" x2="199.80" y2="414.60" stroke="#222" stroke-width="1.3"/>
<line x1="92.80" y1="414.00" x2="200.40" y2="414.00" stroke="#222" stroke-width="1.3"/>
<line x1="90.20" y1="343.00" x2="93.40" y2="343.00" stroke="#222" stroke-width="1"/>
<text x="86.00" y="345.60" font-size="7.4" text-anchor="end" fill="#627292" stroke="#627292" stroke-width="0.14">100</text>
<line x1="199.80" y1="343.00" x2="203.00" y2="343.00" stroke="#222" stroke-width="1"/>
<text x="206.80" y="345.60" font-size="7.4" fill="#d05a72" stroke="#d05a72" stroke-width="0.14">100</text>
<line x1="90.20" y1="357.20" x2="93.40" y2="357.20" stroke="#222" stroke-width="1"/>
<text x="86.00" y="359.80" font-size="7.4" text-anchor="end" fill="#627292" stroke="#627292" stroke-width="0.14">80</text>
<line x1="199.80" y1="357.20" x2="203.00" y2="357.20" stroke="#222" stroke-width="1"/>
<text x="206.80" y="359.80" font-size="7.4" fill="#d05a72" stroke="#d05a72" stroke-width="0.14">80</text>
<line x1="90.20" y1="371.40" x2="93.40" y2="371.40" stroke="#222" stroke-width="1"/>
<text x="86.00" y="374.00" font-size="7.4" text-anchor="end" fill="#627292" stroke="#627292" stroke-width="0.14">60</text>
<line x1="199.80" y1="371.40" x2="203.00" y2="371.40" stroke="#222" stroke-width="1"/>
<text x="206.80" y="374.00" font-size="7.4" fill="#d05a72" stroke="#d05a72" stroke-width="0.14">60</text>
<line x1="90.20" y1="385.60" x2="93.40" y2="385.60" stroke="#222" stroke-width="1"/>
<text x="86.00" y="388.20" font-size="7.4" text-anchor="end" fill="#627292" stroke="#627292" stroke-width="0.14">40</text>
<line x1="199.80" y1="385.60" x2="203.00" y2="385.60" stroke="#222" stroke-width="1"/>
<text x="206.80" y="388.20" font-size="7.4" fill="#d05a72" stroke="#d05a72" stroke-width="0.14">40</text>
<line x1="90.20" y1="399.80" x2="93.40" y2="399.80" stroke="#222" stroke-width="1"/>
<text x="86.00" y="402.40" font-size="7.4" text-anchor="end" fill="#627292" stroke="#627292" stroke-width="0.14">20</text>
<line x1="199.80" y1="399.80" x2="203.00" y2="399.80" stroke="#222" stroke-width="1"/>
<text x="206.80" y="402.40" font-size="7.4" fill="#d05a72" stroke="#d05a72" stroke-width="0.14">20</text>
<line x1="90.20" y1="414.00" x2="93.40" y2="414.00" stroke="#222" stroke-width="1"/>
<text x="86.00" y="416.60" font-size="7.4" text-anchor="end" fill="#627292" stroke="#627292" stroke-width="0.14">0</text>
<line x1="199.80" y1="414.00" x2="203.00" y2="414.00" stroke="#222" stroke-width="1"/>
<text x="206.80" y="416.60" font-size="7.4" fill="#d05a72" stroke="#d05a72" stroke-width="0.14">0</text>
<line x1="93.40" y1="414.00" x2="93.40" y2="417.20" stroke="#222" stroke-width="1"/>
<text x="95.90" y="425.30" font-size="8.4" text-anchor="end" fill="#333" stroke="#333" stroke-width="0.14" textLength="21.5" lengthAdjust="spacingAndGlyphs" transform="rotate(-45 95.90 425.30)">0.00001</text>
<line x1="106.70" y1="414.00" x2="106.70" y2="417.20" stroke="#222" stroke-width="1"/>
<text x="109.20" y="425.30" font-size="8.4" text-anchor="end" fill="#333" stroke="#333" stroke-width="0.14" textLength="18.4" lengthAdjust="spacingAndGlyphs" transform="rotate(-45 109.20 425.30)">0.0001</text>
<line x1="120.00" y1="414.00" x2="120.00" y2="417.20" stroke="#222" stroke-width="1"/>
<text x="122.50" y="425.30" font-size="8.4" text-anchor="end" fill="#333" stroke="#333" stroke-width="0.14" textLength="15.2" lengthAdjust="spacingAndGlyphs" transform="rotate(-45 122.50 425.30)">0.001</text>
<line x1="133.30" y1="414.00" x2="133.30" y2="417.20" stroke="#222" stroke-width="1"/>
<text x="135.80" y="425.30" font-size="8.4" text-anchor="end" fill="#333" stroke="#333" stroke-width="0.14" textLength="12.0" lengthAdjust="spacingAndGlyphs" transform="rotate(-45 135.80 425.30)">0.01</text>
<line x1="146.60" y1="414.00" x2="146.60" y2="417.20" stroke="#222" stroke-width="1"/>
<text x="149.10" y="425.30" font-size="8.4" text-anchor="end" fill="#333" stroke="#333" stroke-width="0.14" textLength="8.9" lengthAdjust="spacingAndGlyphs" transform="rotate(-45 149.10 425.30)">0.1</text>
<line x1="159.90" y1="414.00" x2="159.90" y2="417.20" stroke="#222" stroke-width="1"/>
<text x="162.40" y="425.30" font-size="8.4" text-anchor="end" fill="#333" stroke="#333" stroke-width="0.14" textLength="3.1" lengthAdjust="spacingAndGlyphs" transform="rotate(-45 162.40 425.30)">1</text>
<line x1="173.20" y1="414.00" x2="173.20" y2="417.20" stroke="#222" stroke-width="1"/>
<text x="175.70" y="425.30" font-size="8.4" text-anchor="end" fill="#333" stroke="#333" stroke-width="0.14" textLength="6.3" lengthAdjust="spacingAndGlyphs" transform="rotate(-45 175.70 425.30)">10</text>
<line x1="186.50" y1="414.00" x2="186.50" y2="417.20" stroke="#222" stroke-width="1"/>
<text x="189.00" y="425.30" font-size="8.4" text-anchor="end" fill="#333" stroke="#333" stroke-width="0.14" textLength="9.4" lengthAdjust="spacingAndGlyphs" transform="rotate(-45 189.00 425.30)">100</text>
<line x1="199.80" y1="414.00" x2="199.80" y2="417.20" stroke="#222" stroke-width="1"/>
<text x="202.30" y="425.30" font-size="8.4" text-anchor="end" fill="#333" stroke="#333" stroke-width="0.14" textLength="12.6" lengthAdjust="spacingAndGlyphs" transform="rotate(-45 202.30 425.30)">1000</text>
<text x="69.60" y="376.30" font-size="8.8" text-anchor="middle" fill="#5479b2" stroke="#5479b2" stroke-width="0.14" textLength="77" lengthAdjust="spacingAndGlyphs" transform="rotate(-90 69.60 376.30)">% CD69<tspan font-size="65%" dy="-3.5">+</tspan><tspan dy="3.5"> of CD8</tspan><tspan font-size="65%" dy="-3.5">+</tspan><tspan dy="3.5"> T-cells</tspan></text>
<text x="224.20" y="375.50" font-size="8.8" text-anchor="middle" fill="#d05470" stroke="#d05470" stroke-width="0.14" textLength="75.5" lengthAdjust="spacingAndGlyphs" transform="rotate(90 224.20 375.50)">% CD25<tspan font-size="65%" dy="-3.5">+</tspan><tspan dy="3.5"> of CD8</tspan><tspan font-size="65%" dy="-3.5">+</tspan><tspan dy="3.5"> T-cells</tspan></text>
<text x="99.30" y="455.00" font-size="9.8" fill="#333" stroke="#333" stroke-width="0.14" textLength="95.6" lengthAdjust="spacingAndGlyphs">Antibody concentration (nM)</text>
<polyline points="106.70,410.43 107.37,410.43 108.03,410.43 108.69,410.42 109.36,410.42 110.02,410.41 110.69,410.41 111.35,410.40 112.02,410.39 112.68,410.38 113.35,410.37 114.01,410.36 114.68,410.35 115.34,410.34 116.01,410.32 116.67,410.30 117.34,410.28 118.00,410.25 118.67,410.22 119.33,410.19 120.00,410.15 120.66,410.11 121.33,410.06 121.99,410.00 122.66,409.94 123.32,409.86 123.99,409.77 124.65,409.68 125.32,409.56 125.98,409.44 126.65,409.29 127.31,409.12 127.98,408.93 128.64,408.72 129.31,408.47 129.97,408.19 130.64,407.88 131.30,407.52 131.97,407.12 132.63,406.67 133.30,406.17 133.96,405.61 134.63,404.98 135.29,404.29 135.96,403.52 136.62,402.68 137.29,401.76 137.95,400.76 138.62,399.68 139.28,398.52 139.95,397.29 140.61,395.99 141.28,394.63 141.94,393.22 142.61,391.77 143.27,390.29 143.94,388.80 144.60,387.30 145.27,385.82 145.93,384.37 146.60,382.96 147.26,381.60 147.93,380.30 148.59,379.07 149.26,377.91 149.92,376.83 150.59,375.83 151.25,374.91 151.92,374.07 152.58,373.30 153.25,372.61 153.91,371.98 154.58,371.42 155.24,370.92 155.91,370.47 156.57,370.07 157.24,369.71 157.90,369.40 158.57,369.12 159.23,368.87 159.90,368.66 160.56,368.47 161.23,368.30 161.89,368.15 162.56,368.03 163.22,367.91 163.89,367.82 164.55,367.73 165.22,367.65 165.88,367.59 166.55,367.53 167.21,367.48 167.88,367.44 168.54,367.40 169.21,367.37 169.87,367.34 170.54,367.31 171.20,367.29 171.87,367.27 172.53,367.25 173.20,367.24 173.86,367.23 174.53,367.22 175.19,367.21 175.86,367.20 176.52,367.19 177.19,367.18 177.85,367.18 178.52,367.17 179.18,367.17 179.85,367.16 180.51,367.16 181.18,367.16 181.84,367.16 182.51,367.15 183.17,367.15 183.84,367.15 184.50,367.15 185.17,367.15 185.83,367.15 186.50,367.15" fill="none" stroke="#33629e" stroke-width="0.95"/>
<polyline points="106.70,414.00 107.37,414.00 108.03,413.99 108.69,413.99 109.36,413.99 110.02,413.99 110.69,413.99 111.35,413.99 112.02,413.99 112.68,413.99 113.35,413.99 114.01,413.98 114.68,413.98 115.34,413.98 116.01,413.98 116.67,413.97 117.34,413.97 118.00,413.96 118.67,413.96 119.33,413.95 120.00,413.95 120.66,413.94 121.33,413.93 121.99,413.92 122.66,413.91 123.32,413.90 123.99,413.89 124.65,413.87 125.32,413.86 125.98,413.84 126.65,413.82 127.31,413.79 127.98,413.76 128.64,413.73 129.31,413.70 129.97,413.66 130.64,413.61 131.30,413.56 131.97,413.50 132.63,413.43 133.30,413.36 133.96,413.27 134.63,413.18 135.29,413.07 135.96,412.95 136.62,412.82 137.29,412.66 137.95,412.49 138.62,412.30 139.28,412.09 139.95,411.86 140.61,411.59 141.28,411.30 141.94,410.98 142.61,410.63 143.27,410.24 143.94,409.81 144.60,409.35 145.27,408.85 145.93,408.30 146.60,407.72 147.26,407.10 147.93,406.44 148.59,405.74 149.26,405.01 149.92,404.26 150.59,403.47 151.25,402.67 151.92,401.86 152.58,401.04 153.25,400.22 153.91,399.41 154.58,398.61 155.24,397.83 155.91,397.07 156.57,396.34 157.24,395.65 157.90,394.99 158.57,394.37 159.23,393.78 159.90,393.24 160.56,392.74 161.23,392.27 161.89,391.85 162.56,391.46 163.22,391.10 163.89,390.78 164.55,390.49 165.22,390.23 165.88,389.99 166.55,389.78 167.21,389.59 167.88,389.42 168.54,389.27 169.21,389.13 169.87,389.01 170.54,388.91 171.20,388.81 171.87,388.73 172.53,388.65 173.20,388.59 173.86,388.53 174.53,388.48 175.19,388.43 175.86,388.39 176.52,388.35 177.19,388.32 177.85,388.29 178.52,388.27 179.18,388.25 179.85,388.23 180.51,388.21 181.18,388.20 181.84,388.18 182.51,388.17 183.17,388.16 183.84,388.15 184.50,388.14 185.17,388.14 185.83,388.13 186.50,388.13" fill="none" stroke="#c2304a" stroke-width="0.95"/>
<circle cx="106.70" cy="410.45" r="1.6" fill="#1c3666"/>
<circle cx="106.70" cy="414.00" r="1.6" fill="#9a1a30"/>
<circle cx="120.00" cy="410.45" r="1.6" fill="#1c3666"/>
<circle cx="120.00" cy="414.00" r="1.6" fill="#9a1a30"/>
<circle cx="133.30" cy="406.19" r="1.6" fill="#1c3666"/>
<circle cx="133.30" cy="413.79" r="1.6" fill="#9a1a30"/>
<circle cx="146.60" cy="382.76" r="1.6" fill="#1c3666"/>
<circle cx="146.60" cy="407.96" r="1.6" fill="#9a1a30"/>
<circle cx="159.90" cy="370.69" r="1.6" fill="#1c3666"/>
<circle cx="159.90" cy="393.41" r="1.6" fill="#9a1a30"/>
<circle cx="173.20" cy="367.85" r="1.6" fill="#1c3666"/>
<circle cx="173.20" cy="388.44" r="1.6" fill="#9a1a30"/>
<circle cx="186.50" cy="367.14" r="1.6" fill="#1c3666"/>
<circle cx="186.50" cy="388.44" r="1.6" fill="#9a1a30"/>
<circle cx="186.50" cy="407.04" r="1.6" fill="#fff" stroke="#1c3666" stroke-width="0.8"/>
<circle cx="186.50" cy="412.94" r="1.6" fill="#fff" stroke="#c0303f" stroke-width="0.8"/>
<line x1="330.20" y1="339.00" x2="330.20" y2="431.00" stroke="#222" stroke-width="1.3"/>
<line x1="329.60" y1="430.40" x2="424.40" y2="430.40" stroke="#222" stroke-width="1.3"/>
<line x1="336.90" y1="430.40" x2="336.90" y2="434.00" stroke="#222" stroke-width="1"/>
<text x="336.90" y="442.70" font-size="8.2" text-anchor="middle" fill="#333" stroke="#333" stroke-width="0.14" textLength="4.2" lengthAdjust="spacingAndGlyphs">0</text>
<line x1="351.06" y1="430.40" x2="351.06" y2="434.00" stroke="#222" stroke-width="1"/>
<text x="351.06" y="442.70" font-size="8.2" text-anchor="middle" fill="#333" stroke="#333" stroke-width="0.14" textLength="8.3" lengthAdjust="spacingAndGlyphs">20</text>
<line x1="365.22" y1="430.40" x2="365.22" y2="434.00" stroke="#222" stroke-width="1"/>
<text x="365.22" y="442.70" font-size="8.2" text-anchor="middle" fill="#333" stroke="#333" stroke-width="0.14" textLength="8.3" lengthAdjust="spacingAndGlyphs">40</text>
<line x1="379.38" y1="430.40" x2="379.38" y2="434.00" stroke="#222" stroke-width="1"/>
<text x="379.38" y="442.70" font-size="8.2" text-anchor="middle" fill="#333" stroke="#333" stroke-width="0.14" textLength="8.3" lengthAdjust="spacingAndGlyphs">60</text>
<line x1="393.54" y1="430.40" x2="393.54" y2="434.00" stroke="#222" stroke-width="1"/>
<text x="393.54" y="442.70" font-size="8.2" text-anchor="middle" fill="#333" stroke="#333" stroke-width="0.14" textLength="8.3" lengthAdjust="spacingAndGlyphs">80</text>
<line x1="407.70" y1="430.40" x2="407.70" y2="434.00" stroke="#222" stroke-width="1"/>
<text x="407.70" y="442.70" font-size="8.2" text-anchor="middle" fill="#333" stroke="#333" stroke-width="0.14" textLength="12.5" lengthAdjust="spacingAndGlyphs">100</text>
<line x1="421.86" y1="430.40" x2="421.86" y2="434.00" stroke="#222" stroke-width="1"/>
<text x="421.86" y="442.70" font-size="8.2" text-anchor="middle" fill="#333" stroke="#333" stroke-width="0.14" textLength="12.5" lengthAdjust="spacingAndGlyphs">120</text>
<text x="330.20" y="456.00" font-size="9.8" fill="#333" stroke="#333" stroke-width="0.14" textLength="96.4" lengthAdjust="spacingAndGlyphs">Maximum T-cell response (%)</text>
<line x1="326.80" y1="350.10" x2="330.20" y2="350.10" stroke="#222" stroke-width="1"/>
<text x="320.80" y="352.60" font-size="7.8" text-anchor="end" fill="#333" stroke="#333" stroke-width="0.14" textLength="54.1" lengthAdjust="spacingAndGlyphs">% CD8<tspan font-size="65%" dy="-3.5">+</tspan><tspan dy="3.5"> CD107a</tspan><tspan font-size="65%" dy="-3.5">+</tspan></text>
<line x1="326.80" y1="368.70" x2="330.20" y2="368.70" stroke="#222" stroke-width="1"/>
<text x="320.80" y="371.20" font-size="7.8" text-anchor="end" fill="#333" stroke="#333" stroke-width="0.14" textLength="47.3" lengthAdjust="spacingAndGlyphs">% CD8<tspan font-size="65%" dy="-3.5">+</tspan><tspan dy="3.5"> CD69</tspan><tspan font-size="65%" dy="-3.5">+</tspan></text>
<line x1="326.80" y1="387.30" x2="330.20" y2="387.30" stroke="#222" stroke-width="1"/>
<text x="320.80" y="389.80" font-size="7.8" text-anchor="end" fill="#333" stroke="#333" stroke-width="0.14" textLength="47.3" lengthAdjust="spacingAndGlyphs">% CD8<tspan font-size="65%" dy="-3.5">+</tspan><tspan dy="3.5"> CD25</tspan><tspan font-size="65%" dy="-3.5">+</tspan></text>
<line x1="326.80" y1="406.00" x2="330.20" y2="406.00" stroke="#222" stroke-width="1"/>
<text x="320.80" y="408.50" font-size="7.8" text-anchor="end" fill="#333" stroke="#333" stroke-width="0.14" textLength="47.3" lengthAdjust="spacingAndGlyphs">% CD4<tspan font-size="65%" dy="-3.5">+</tspan><tspan dy="3.5"> CD69</tspan><tspan font-size="65%" dy="-3.5">+</tspan></text>
<line x1="326.80" y1="424.60" x2="330.20" y2="424.60" stroke="#222" stroke-width="1"/>
<text x="320.80" y="427.10" font-size="7.8" text-anchor="end" fill="#333" stroke="#333" stroke-width="0.14" textLength="47.3" lengthAdjust="spacingAndGlyphs">% CD4<tspan font-size="65%" dy="-3.5">+</tspan><tspan dy="3.5"> CD25</tspan><tspan font-size="65%" dy="-3.5">+</tspan></text>
<line x1="332.40" y1="356.10" x2="425.50" y2="356.10" stroke="#999" stroke-width="0.8" stroke-dasharray="1 1.6"/>
<line x1="332.40" y1="374.70" x2="425.50" y2="374.70" stroke="#999" stroke-width="0.8" stroke-dasharray="1 1.6"/>
<line x1="332.40" y1="393.30" x2="425.50" y2="393.30" stroke="#999" stroke-width="0.8" stroke-dasharray="1 1.6"/>
<line x1="332.40" y1="412.00" x2="425.50" y2="412.00" stroke="#999" stroke-width="0.8" stroke-dasharray="1 1.6"/>
<line x1="346.50" y1="343.60" x2="399.10" y2="343.60" stroke="#333" stroke-width="1"/>
<line x1="399.10" y1="342.10" x2="399.10" y2="345.10" stroke="#333" stroke-width="0.8"/>
<circle cx="342.40" cy="343.60" r="1.95" fill="#f4dde3" stroke="#c04a5c" stroke-width="0.85"/>
<circle cx="387.70" cy="343.60" r="1.95" fill="#f4dde3" stroke="#c04a5c" stroke-width="0.85"/>
<line x1="372.50" y1="341.40" x2="372.50" y2="345.80" stroke="#222" stroke-width="1.2"/>
<line x1="339.00" y1="350.90" x2="395.40" y2="350.90" stroke="#333" stroke-width="1"/>
<circle cx="339.50" cy="350.90" r="2.15" fill="#6e0f22" stroke="#3e0510" stroke-width="0.5"/>
<circle cx="341.00" cy="350.90" r="2.15" fill="#6e0f22" stroke="#3e0510" stroke-width="0.5"/>
<circle cx="342.50" cy="350.90" r="2.15" fill="#6e0f22" stroke="#3e0510" stroke-width="0.5"/>
<circle cx="358.90" cy="350.90" r="2.15" fill="#6e0f22" stroke="#3e0510" stroke-width="0.5"/>
<circle cx="373.80" cy="350.90" r="2.15" fill="#6e0f22" stroke="#3e0510" stroke-width="0.5"/>
<circle cx="377.20" cy="350.90" r="2.15" fill="#6e0f22" stroke="#3e0510" stroke-width="0.5"/>
<circle cx="387.30" cy="350.90" r="2.15" fill="#6e0f22" stroke="#3e0510" stroke-width="0.5"/>
<circle cx="390.70" cy="350.90" r="2.15" fill="#6e0f22" stroke="#3e0510" stroke-width="0.5"/>
<circle cx="394.00" cy="350.90" r="2.15" fill="#6e0f22" stroke="#3e0510" stroke-width="0.5"/>
<line x1="364.40" y1="348.70" x2="364.40" y2="353.10" stroke="#222" stroke-width="1.2"/>
<line x1="367.80" y1="362.20" x2="393.10" y2="362.20" stroke="#333" stroke-width="1"/>
<line x1="393.10" y1="360.70" x2="393.10" y2="363.70" stroke="#333" stroke-width="0.8"/>
<circle cx="367.80" cy="362.20" r="1.95" fill="#f4dde3" stroke="#c04a5c" stroke-width="0.85"/>
<circle cx="381.90" cy="362.20" r="1.95" fill="#f4dde3" stroke="#c04a5c" stroke-width="0.85"/>
<circle cx="393.10" cy="362.20" r="1.95" fill="#f4dde3" stroke="#c04a5c" stroke-width="0.85"/>
<line x1="381.90" y1="360.00" x2="381.90" y2="364.40" stroke="#222" stroke-width="1.2"/>
<line x1="381.90" y1="369.50" x2="405.50" y2="369.50" stroke="#333" stroke-width="1"/>
<circle cx="381.90" cy="369.50" r="2.15" fill="#6e0f22" stroke="#3e0510" stroke-width="0.5"/>
<circle cx="384.00" cy="369.50" r="2.15" fill="#6e0f22" stroke="#3e0510" stroke-width="0.5"/>
<circle cx="390.70" cy="369.50" r="2.15" fill="#6e0f22" stroke="#3e0510" stroke-width="0.5"/>
<circle cx="393.50" cy="369.50" r="2.15" fill="#6e0f22" stroke="#3e0510" stroke-width="0.5"/>
<circle cx="396.50" cy="369.50" r="2.15" fill="#6e0f22" stroke="#3e0510" stroke-width="0.5"/>
<circle cx="399.50" cy="369.50" r="2.15" fill="#6e0f22" stroke="#3e0510" stroke-width="0.5"/>
<circle cx="402.50" cy="369.50" r="2.15" fill="#6e0f22" stroke="#3e0510" stroke-width="0.5"/>
<circle cx="405.50" cy="369.50" r="2.15" fill="#6e0f22" stroke="#3e0510" stroke-width="0.5"/>
<line x1="351.60" y1="380.80" x2="401.30" y2="380.80" stroke="#333" stroke-width="1"/>
<line x1="401.30" y1="379.30" x2="401.30" y2="382.30" stroke="#333" stroke-width="0.8"/>
<circle cx="351.60" cy="380.80" r="1.95" fill="#f4dde3" stroke="#c04a5c" stroke-width="0.85"/>
<circle cx="359.80" cy="380.80" r="1.95" fill="#f4dde3" stroke="#c04a5c" stroke-width="0.85"/>
<circle cx="395.80" cy="380.80" r="1.95" fill="#f4dde3" stroke="#c04a5c" stroke-width="0.85"/>
<circle cx="401.30" cy="380.80" r="1.95" fill="#f4dde3" stroke="#c04a5c" stroke-width="0.85"/>
<line x1="377.20" y1="378.60" x2="377.20" y2="383.00" stroke="#222" stroke-width="1.2"/>
<line x1="363.40" y1="388.10" x2="404.40" y2="388.10" stroke="#333" stroke-width="1"/>
<circle cx="363.40" cy="388.10" r="2.15" fill="#6e0f22" stroke="#3e0510" stroke-width="0.5"/>
<circle cx="374.70" cy="388.10" r="2.15" fill="#6e0f22" stroke="#3e0510" stroke-width="0.5"/>
<circle cx="380.20" cy="388.10" r="2.15" fill="#6e0f22" stroke="#3e0510" stroke-width="0.5"/>
<circle cx="386.80" cy="388.10" r="2.15" fill="#6e0f22" stroke="#3e0510" stroke-width="0.5"/>
<circle cx="392.30" cy="388.10" r="2.15" fill="#6e0f22" stroke="#3e0510" stroke-width="0.5"/>
<circle cx="395.30" cy="388.10" r="2.15" fill="#6e0f22" stroke="#3e0510" stroke-width="0.5"/>
<circle cx="398.30" cy="388.10" r="2.15" fill="#6e0f22" stroke="#3e0510" stroke-width="0.5"/>
<circle cx="401.30" cy="388.10" r="2.15" fill="#6e0f22" stroke="#3e0510" stroke-width="0.5"/>
<circle cx="404.40" cy="388.10" r="2.15" fill="#6e0f22" stroke="#3e0510" stroke-width="0.5"/>
<line x1="391.40" y1="385.90" x2="391.40" y2="390.30" stroke="#222" stroke-width="1.2"/>
<line x1="387.70" y1="399.50" x2="404.60" y2="399.50" stroke="#333" stroke-width="1"/>
<line x1="404.60" y1="398.00" x2="404.60" y2="401.00" stroke="#333" stroke-width="0.8"/>
<circle cx="387.70" cy="399.50" r="1.95" fill="#f4dde3" stroke="#c04a5c" stroke-width="0.85"/>
<circle cx="404.60" cy="399.50" r="1.95" fill="#f4dde3" stroke="#c04a5c" stroke-width="0.85"/>
<line x1="396.00" y1="397.30" x2="396.00" y2="401.70" stroke="#222" stroke-width="1.2"/>
<line x1="401.00" y1="406.80" x2="407.90" y2="406.80" stroke="#333" stroke-width="1"/>
<circle cx="401.00" cy="406.80" r="2.15" fill="#6e0f22" stroke="#3e0510" stroke-width="0.5"/>
<circle cx="403.30" cy="406.80" r="2.15" fill="#6e0f22" stroke="#3e0510" stroke-width="0.5"/>
<circle cx="405.60" cy="406.80" r="2.15" fill="#6e0f22" stroke="#3e0510" stroke-width="0.5"/>
<circle cx="407.90" cy="406.80" r="2.15" fill="#6e0f22" stroke="#3e0510" stroke-width="0.5"/>
<line x1="373.30" y1="418.10" x2="407.90" y2="418.10" stroke="#333" stroke-width="1"/>
<line x1="407.90" y1="416.60" x2="407.90" y2="419.60" stroke="#333" stroke-width="0.8"/>
<circle cx="373.30" cy="418.10" r="1.95" fill="#f4dde3" stroke="#c04a5c" stroke-width="0.85"/>
<circle cx="377.10" cy="418.10" r="1.95" fill="#f4dde3" stroke="#c04a5c" stroke-width="0.85"/>
<circle cx="397.90" cy="418.10" r="1.95" fill="#f4dde3" stroke="#c04a5c" stroke-width="0.85"/>
<circle cx="407.90" cy="418.10" r="1.95" fill="#f4dde3" stroke="#c04a5c" stroke-width="0.85"/>
<line x1="389.60" y1="415.90" x2="389.60" y2="420.30" stroke="#222" stroke-width="1.2"/>
<line x1="388.70" y1="425.40" x2="406.90" y2="425.40" stroke="#333" stroke-width="1"/>
<circle cx="388.70" cy="425.40" r="2.15" fill="#6e0f22" stroke="#3e0510" stroke-width="0.5"/>
<circle cx="391.70" cy="425.40" r="2.15" fill="#6e0f22" stroke="#3e0510" stroke-width="0.5"/>
<circle cx="394.70" cy="425.40" r="2.15" fill="#6e0f22" stroke="#3e0510" stroke-width="0.5"/>
<circle cx="397.70" cy="425.40" r="2.15" fill="#6e0f22" stroke="#3e0510" stroke-width="0.5"/>
<circle cx="400.70" cy="425.40" r="2.15" fill="#6e0f22" stroke="#3e0510" stroke-width="0.5"/>
<circle cx="403.70" cy="425.40" r="2.15" fill="#6e0f22" stroke="#3e0510" stroke-width="0.5"/>
<circle cx="406.90" cy="425.40" r="2.15" fill="#6e0f22" stroke="#3e0510" stroke-width="0.5"/>
<polyline points="398.00,362.50 418.50,362.50 418.50,369.40 410.90,369.40" fill="none" stroke="#444" stroke-width="1"/>
<line x1="421.60" y1="364.40" x2="421.60" y2="367.40" stroke="#333" stroke-width="0.75"/>
<line x1="420.30" y1="365.15" x2="422.90" y2="366.65" stroke="#333" stroke-width="0.75"/>
<line x1="422.90" y1="365.15" x2="420.30" y2="366.65" stroke="#333" stroke-width="0.75"/>
<polyline points="409.80,399.60 419.40,399.60 419.40,407.30 411.70,407.30" fill="none" stroke="#444" stroke-width="1"/>
<line x1="422.00" y1="402.20" x2="422.00" y2="405.20" stroke="#333" stroke-width="0.75"/>
<line x1="420.70" y1="402.95" x2="423.30" y2="404.45" stroke="#333" stroke-width="0.75"/>
<line x1="423.30" y1="402.95" x2="420.70" y2="404.45" stroke="#333" stroke-width="0.75"/>
<circle cx="444.20" cy="378.80" r="2.2" fill="#fff" stroke="#c04a5c" stroke-width="0.9"/>
<text x="449.40" y="381.30" font-size="8" fill="#333" stroke="#333" stroke-width="0.14" textLength="44.3" lengthAdjust="spacingAndGlyphs">Dara-exposed</text>
<circle cx="444.20" cy="390.10" r="2.3" fill="#6e0f22" stroke="#3e0510" stroke-width="0.6"/>
<text x="449.40" y="392.60" font-size="8" fill="#333" stroke="#333" stroke-width="0.14" textLength="33.4" lengthAdjust="spacingAndGlyphs">Dara-naïve</text>
<rect x="0.5" y="0.5" width="519" height="465" fill="none" stroke="#505050" stroke-width="1"/>
</svg>
</body></html>
